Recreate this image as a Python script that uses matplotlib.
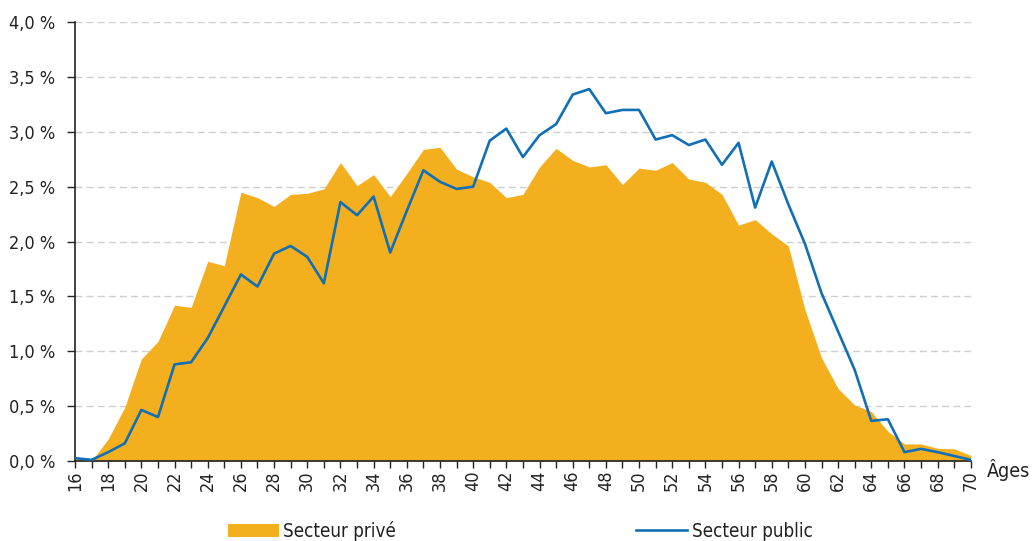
import numpy as np
import matplotlib
matplotlib.use("Agg")
import matplotlib.pyplot as plt
from matplotlib.patches import Patch
from matplotlib.lines import Line2D
from matplotlib.ticker import FuncFormatter, MultipleLocator

plt.rcParams['font.family'] = ['DejaVu Sans']
plt.rcParams['font.stretch'] = 'condensed'
plt.rcParams['text.color'] = '#222222'

# Age distribution of employees, by sector (% of headcount)
ages = list(range(16, 71))
prive = [0.02, 0.0, 0.2, 0.49, 0.93, 1.09, 1.42, 1.40, 1.82, 1.78,
         2.45, 2.40, 2.32, 2.43, 2.44, 2.48, 2.72, 2.51, 2.61, 2.41,
         2.62, 2.84, 2.86, 2.66, 2.59, 2.54, 2.40, 2.43, 2.68, 2.85,
         2.74, 2.68, 2.70, 2.52, 2.67, 2.65, 2.72, 2.57, 2.54, 2.43,
         2.15, 2.20, 2.07, 1.96, 1.38, 0.94, 0.66, 0.51, 0.45, 0.27,
         0.155, 0.155, 0.115, 0.11, 0.05]
public = [0.025, 0.01, 0.08, 0.16, 0.465, 0.40, 0.88, 0.90, 1.12, 1.41,
          1.70, 1.59, 1.89, 1.96, 1.86, 1.62, 2.36, 2.24, 2.41, 1.90,
          2.28, 2.65, 2.545, 2.48, 2.50, 2.92, 3.03, 2.77, 2.97, 3.07,
          3.34, 3.39, 3.17, 3.20, 3.20, 2.93, 2.97, 2.88, 2.93, 2.70,
          2.90, 2.31, 2.73, 2.34, 1.98, 1.53, 1.18, 0.83, 0.365, 0.38,
          0.08, 0.11, 0.08, 0.045, 0.01]

orange = "#F4AF1F"
blue = "#1170B5"

fig = plt.figure(figsize=(10.32, 5.41), dpi=100)
ax = fig.add_axes([0.0727, 0.148, 0.868, 0.811])

ax.fill_between(ages, prive, 0, color=orange, lw=0, zorder=2)
ax.plot(ages, public, color=blue, lw=1.9, zorder=3)

ax.set_xlim(16, 70)
ax.set_ylim(0, 4.0)
ax.yaxis.set_major_locator(MultipleLocator(0.5))
ax.yaxis.set_major_formatter(FuncFormatter(lambda v, p: f"{v:.1f} %".replace(".", ",")))
ax.set_xticks(ages)
ax.set_xticklabels([str(a) if a % 2 == 0 else "" for a in ages], rotation=90)
ax.grid(axis='y', color="#CFCFCF", linestyle=(0, (5, 3)), lw=1.0, zorder=1)
ax.tick_params(axis='both', labelsize=13, color="#222222", labelcolor="#222222",
               length=5, width=1)
ax.tick_params(axis='y', length=6, pad=8)
ax.tick_params(axis='x', pad=2)

for s in ['top', 'right']:
    ax.spines[s].set_visible(False)
for s in ['left', 'bottom']:
    ax.spines[s].set_color("#222222")
    ax.spines[s].set_linewidth(1.2)

fig.text(0.977, 0.131, "Âges", fontsize=14, ha='center', va='center')

handles = [Patch(facecolor=orange, edgecolor='none'),
           Line2D([0], [0], color=blue, lw=1.9)]
fig.legend(handles, ["Secteur privé", "Secteur public"], ncol=2,
           loc='center left', bbox_to_anchor=(228 / 1032, 1 - 531 / 541),
           frameon=False, borderpad=0, borderaxespad=0,
           fontsize=13.5, handlelength=2.7, handleheight=0.75, handletextpad=0.25,
           columnspacing=12.8)

fig.savefig("out.png", dpi=100)
